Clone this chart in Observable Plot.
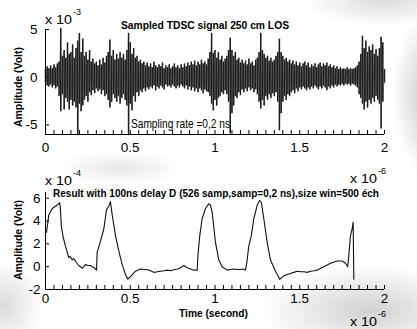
<!DOCTYPE html>
<html><head><meta charset="utf-8">
<script src="https://cdn.jsdelivr.net/npm/d3@7"></script>
<script src="https://cdn.jsdelivr.net/npm/@observablehq/plot@0.6"></script>
<style>
html,body{margin:0;padding:0;background:#fff;}
#wrap{position:relative;width:417px;height:329px;overflow:hidden;background:#fff;font-family:"Liberation Sans",Arial,sans-serif;}
#bg{position:absolute;left:0;top:0;width:417px;height:329px;
 background:
  radial-gradient(ellipse 50px 110px at 430px 95px, rgba(180,180,180,0.75), rgba(255,255,255,0) 75%),
  radial-gradient(ellipse 110px 35px at 385px 0px, rgba(200,200,200,0.65), rgba(255,255,255,0) 75%),
  radial-gradient(ellipse 150px 60px at 370px 310px, rgba(190,190,190,0.7), rgba(255,255,255,0) 75%),
  radial-gradient(ellipse 50px 60px at 5px 305px, rgba(200,200,200,0.65), rgba(255,255,255,0) 75%),
  radial-gradient(ellipse 90px 22px at 120px 168px, rgba(215,215,215,0.6), rgba(255,255,255,0) 75%);}
.panel{position:absolute;left:0;}
#overlay{position:absolute;left:0;top:0;}
</style></head><body><div id="wrap"><div id="bg"></div></div>
<script>
// ---- Top panel: sampled TDSC signal (x 1e-6 s, amplitude x 1e-3 V), envelope per 0.01 step
const topHi = [
 0.8,1.1,0.9,1.2,0.9,1.3,1.0,1.4,1.6,5.1,
 2.2,2.8,2.0,3.6,2.4,2.6,3.4,2.0,3.0,3.8,
 4.6,2.6,4.0,2.2,2.6,1.8,2.8,1.6,1.9,1.4,
 1.6,1.2,1.8,1.3,2.0,1.5,2.2,2.6,3.9,2.2,
 2.8,1.8,2.4,1.9,2.6,2.0,2.4,1.8,2.8,4.6,
 3.6,2.4,3.0,2.0,2.2,1.6,1.8,1.4,1.6,1.2,
 1.5,1.1,1.4,1.0,1.6,1.2,1.0,1.3,1.1,1.5,
 0.9,1.2,1.0,1.3,0.9,1.1,1.4,1.0,1.2,0.9,
 1.3,1.0,1.4,1.1,1.5,1.2,1.6,1.3,1.7,1.2,
 1.6,1.3,1.8,1.4,1.6,1.3,1.9,2.6,4.6,2.5,
 2.8,2.0,2.6,1.8,2.2,1.6,1.9,2.2,2.8,4.1,
 2.8,2.2,2.6,1.8,2.0,1.5,1.8,1.4,1.7,1.3,
 1.9,1.4,1.6,1.2,1.8,2.0,2.6,4.6,2.8,2.4,
 2.0,2.2,1.7,2.0,1.6,1.8,2.2,2.6,4.0,2.6,
 2.2,1.8,2.0,1.6,1.8,1.4,1.7,1.3,1.6,1.2,
 1.5,1.1,1.4,1.6,1.2,1.5,1.0,1.3,1.1,1.4,
 1.0,1.3,1.5,1.1,1.4,1.2,1.5,1.1,1.3,1.0,
 1.2,0.9,1.1,0.8,1.0,0.8,0.9,0.8,1.0,0.8,
 0.9,0.8,0.9,1.0,1.2,1.6,2.4,4.3,3.0,3.8,
 2.6,3.2,2.8,3.4,2.4,2.9,2.2,3.0,4.2,3.6,
 0.8];
const topLo = [
 -0.6,-0.9,-1.0,-0.8,-1.1,-0.9,-1.2,-1.0,-2.0,-3.6,
 -1.8,-3.4,-2.2,-2.6,-3.4,-2.4,-3.0,-2.6,-3.2,-6.1,
 -2.8,-3.6,-3.0,-2.4,-2.0,-2.6,-1.6,-1.9,-1.4,-1.7,
 -1.2,-1.5,-1.3,-1.8,-1.4,-2.0,-1.8,-2.4,-3.2,-2.6,
 -1.8,-2.2,-2.6,-2.0,-2.8,-2.2,-1.8,-2.4,-3.0,-6.1,
 -2.8,-3.5,-2.0,-2.6,-1.6,-2.0,-1.4,-1.6,-1.2,-1.5,
 -1.1,-1.3,-1.0,-1.2,-0.9,-1.4,-1.0,-1.2,-0.9,-1.1,
 -1.3,-0.8,-1.0,-0.9,-1.1,-0.8,-1.0,-1.2,-0.9,-1.1,
 -0.8,-1.0,-1.2,-0.9,-1.3,-1.0,-1.4,-1.1,-1.5,-1.2,
 -1.6,-1.2,-1.4,-1.7,-1.3,-1.5,-1.6,-2.0,-2.8,-3.5,
 -2.4,-3.0,-2.2,-2.0,-1.6,-1.8,-1.4,-1.8,-2.6,-5.9,
 -3.8,-3.0,-2.0,-2.2,-1.6,-1.9,-1.3,-1.6,-1.2,-1.5,
 -1.1,-1.4,-1.2,-1.6,-1.3,-1.8,-2.6,-3.3,-2.4,-3.0,
 -2.0,-2.4,-1.8,-2.2,-1.7,-2.0,-1.6,-2.6,-5.6,-3.8,
 -2.6,-2.0,-2.4,-1.8,-2.0,-1.6,-1.4,-1.7,-1.2,-1.5,
 -1.1,-1.3,-1.0,-1.2,-1.4,-1.1,-1.3,-1.0,-1.2,-0.9,
 -1.1,-1.3,-1.0,-1.2,-0.9,-1.1,-1.4,-1.0,-1.2,-0.9,
 -1.1,-0.8,-1.0,-0.8,-0.9,-0.7,-0.9,-0.7,-0.8,-0.7,
 -0.9,-0.7,-0.8,-0.9,-1.1,-1.8,-2.2,-2.8,-3.4,-2.6,
 -3.2,-2.4,-2.8,-2.2,-2.6,-2.0,-2.4,-2.8,-5.4,-2.6,
 -0.6];
const topStep = 0.01; // sampling grid of the envelope (x 1e-6 s)

// ---- Bottom panel: result curve (x 1e-6 s, amplitude x 1e-4 V)
const botTime = [0.006,0.019,0.040,0.069,0.084,0.088,0.093,0.104,0.118,0.137,0.145,0.158,0.166,0.177,0.186,0.196,0.206,0.217,0.226,0.236,0.250,0.265,0.275,0.285,0.301,
 0.305,0.320,0.344,0.360,0.373,0.383,0.394,0.413,0.432,0.452,0.472,0.486,0.501,0.531,0.560,0.600,0.620,0.639,0.660,0.678,0.700,0.718,0.740,0.757,0.780,0.796,0.816,0.836,0.855,0.875,0.895,
 0.899,0.910,0.924,0.944,0.963,0.973,0.983,1.003,1.022,1.042,1.072,1.090,1.111,1.130,1.150,1.165,1.180,
 1.190,1.199,1.214,1.229,1.249,1.264,1.274,1.288,1.308,1.327,1.357,1.382,1.406,1.445,1.465,1.485,1.505,1.524,1.545,1.563,1.585,1.603,1.642,1.681,1.721,1.750,1.770,1.783,
 1.789,1.799,1.809,1.815,1.819];
const botVal = [3.0,4.5,5.1,5.4,5.6,5.1,3.6,2.6,1.8,0.8,0.9,0.6,0.7,0.5,0.3,0.1,0.0,-0.15,0.0,0.2,0.1,0.1,0.0,-0.05,-0.3,
 1.3,2.0,3.3,5.0,5.3,5.7,4.5,2.7,1.4,0.2,-0.7,-1.1,-0.87,-0.4,-0.2,-0.27,-0.35,-0.5,-0.45,-0.4,-0.35,-0.3,-0.35,-0.27,-0.2,-0.1,0.1,-0.1,-0.2,-0.3,-0.3,
 0.9,2.7,4.2,5.1,5.5,5.4,4.8,2.1,0.6,0.0,-0.3,-0.25,-0.2,-0.25,-0.25,-0.2,-0.3,
 0.6,1.8,2.7,4.2,5.4,5.8,5.6,4.2,2.1,0.6,-0.4,-1.1,-0.8,-0.6,-0.5,-0.4,-0.45,-0.45,-0.5,-0.4,-0.35,-0.3,0.0,0.3,0.5,0.5,0.3,0.0,
 0.9,2.7,3.3,3.9,-1.1];

// ---- Axes ticks
const xTickLabels = [0, 0.5, 1, 1.5, 2];
const xMinorTicks = [0,0.05,0.1,0.15,0.2,0.25,0.3,0.35,0.4,0.45,0.5,0.55,0.6,0.65,0.7,0.75,0.8,0.85,0.9,0.95,
 1,1.05,1.1,1.15,1.2,1.25,1.3,1.35,1.4,1.45,1.5,1.55,1.6,1.65,1.7,1.75,1.8,1.85,1.9,1.95,2];
const topYTicks = [-5, 0, 5];
const botYTicks = [-2, 0, 2, 4, 6];

const FONT = '"Liberation Sans", Arial, sans-serif';
const fmt = d => String(d);

const topPts = topHi.map((h, i) => ({t: i * topStep, hi: h, lo: topLo[i]}));
const botPts = botTime.map((t, i) => ({t, v: botVal[i]}));

function panel(opts) {
  return Plot.plot({
    width: 417, height: opts.height,
    marginLeft: 45, marginRight: 33, marginTop: opts.mt, marginBottom: opts.mb,
    style: {background: "transparent", fontFamily: FONT, fontSize: "13.5px", color: "#000", overflow: "visible"},
    x: {domain: [0, 2]},
    y: {domain: opts.ydom},
    marks: [
      ...opts.marks,
      Plot.axisX({ticks: xMinorTicks, tickSize: 4, dy: -4, tickFormat: () => "", label: null, stroke: "#000"}),
      Plot.axisX({ticks: xTickLabels, tickSize: 0, tickPadding: opts.xpad, tickFormat: fmt, label: null, fontSize: 13.5}),
      Plot.axisY({ticks: opts.yticks, tickSize: 4, dx: 4, tickFormat: () => "", label: null}),
      Plot.axisY({ticks: opts.yticks, tickSize: 0, tickPadding: opts.ypad, tickFormat: fmt, label: null, fontSize: 13.5}),
      Plot.ruleX([0], {stroke: "#000"}),
      Plot.ruleY([opts.ydom[0]], {stroke: "#000"})
    ]
  });
}

const wrap = document.getElementById("wrap");
const p1 = panel({height: 160, mt: 29, mb: 26, ydom: [-6, 5], yticks: topYTicks, xpad: 8, ypad: 8,
  marks: [
    Plot.ruleX(topPts, {x: "t", y1: "lo", y2: "hi", stroke: "#262626", strokeWidth: 1.5}),
    Plot.line(topPts.flatMap(d => [{t: d.t, v: d.hi}, {t: d.t, v: d.lo}]), {x: "t", y: "v", stroke: "#1a1a1a", strokeWidth: 0.4})
  ]});
p1.classList.add("panel"); p1.style.top = "0px";
wrap.appendChild(p1);

const p2 = panel({height: 169, mt: 32, mb: 40, ydom: [-2, 6.5], yticks: botYTicks, xpad: 4, ypad: 5,
  marks: [Plot.line(botPts, {x: "t", y: "v", stroke: "#111", strokeWidth: 1.1})]});
p2.classList.add("panel"); p2.style.top = "160px";
wrap.appendChild(p2);

// ---- text overlay
const svg = d3.select(wrap).append("svg").attr("id", "overlay")
  .attr("width", 417).attr("height", 329).style("font-family", FONT);
function txt(s, x, y, size, opt = {}) {
  const t = svg.append("text").attr("x", x).attr("y", y).attr("font-size", size).attr("fill", "#000").text(s);
  if (opt.bold) t.attr("font-weight", "bold");
  if (opt.len) t.attr("textLength", opt.len).attr("lengthAdjust", "spacingAndGlyphs");
  if (opt.anchor) t.attr("text-anchor", opt.anchor);
  if (opt.rot) t.attr("transform", `rotate(-90 ${x} ${y})`);
  return t;
}
function mult(x, y, exp) {
  txt("x 10", x, y, 12.5, {len: 27});
  txt(exp, x + 28, y - 9, 9);
}
// top panel
mult(45, 24, "-3");
txt("Sampled TDSC signal 250 cm LOS", 121, 29, 10.5, {bold: true, len: 168});
txt("Sampling rate =0,2 ns", 131, 128, 12, {len: 99});
txt("Amplitude (Volt)", 22, 87, 10.5, {bold: true, len: 80, anchor: "middle", rot: true});
mult(350, 183, "-6");
// bottom panel
mult(45, 185, "-4");
txt("Result with 100ns delay D (526 samp,samp=0,2 ns),size win=500 éch", 53, 197, 10, {bold: true, len: 326});
txt("Amplitude (Volt)", 22, 240, 10.5, {bold: true, len: 80, anchor: "middle", rot: true});
txt("Time (second)", 179, 317, 10.5, {bold: true, len: 69});
mult(350, 326, "-6");
</script>
</body></html>
